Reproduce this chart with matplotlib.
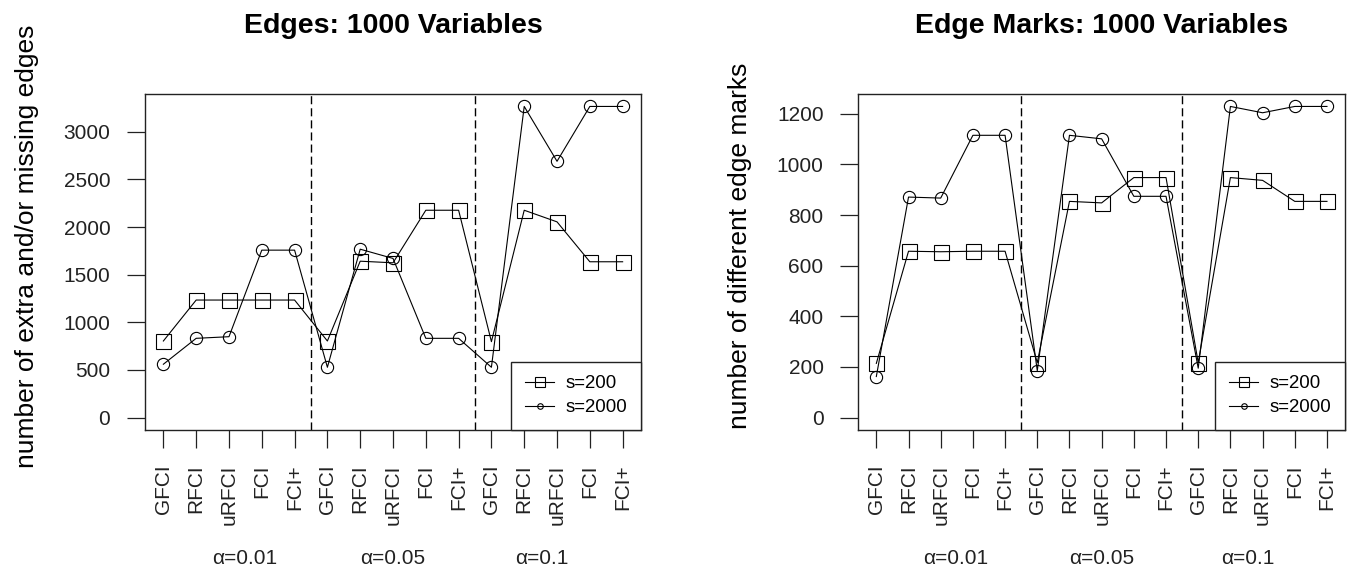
import matplotlib
matplotlib.use("Agg")
import matplotlib.pyplot as plt
import matplotlib.transforms as mtransforms
from matplotlib.lines import Line2D

plt.rcParams['font.family'] = ['Liberation Sans', 'DejaVu Sans']

methods = ["GFCI", "RFCI", "uRFCI", "FCI", "FCI+"]
alphas = ["\u03b1=0.01", "\u03b1=0.05", "\u03b1=0.1"]
tick_labels = methods * 3

# values, 5 methods x 3 alpha levels
edges_s200 = [804, 1234, 1234, 1234, 1234,
              804, 1642, 1625, 2177, 2177,
              797, 2177, 2055, 1636, 1636]
edges_s2000 = [560, 832, 849, 1758, 1758,
               528, 1768, 1671, 832, 832,
               528, 3267, 2691, 3267, 3267]
marks_s200 = [214, 657, 655, 657, 657,
              217, 854, 848, 948, 948,
              217, 948, 937, 854, 854]
marks_s2000 = [162, 871, 867, 1115, 1115,
               185, 1115, 1101, 874, 874,
               195, 1229, 1204, 1229, 1229]

edges_yticks = [0, 500, 1000, 1500, 2000, 2500, 3000]
marks_yticks = [0, 200, 400, 600, 800, 1000, 1200]

W, H = 1363, 576
fig = plt.figure(figsize=(W / 100, H / 100), dpi=100)


def panel(rect, s200, s2000, yticks, title, ylabel, ylab_x):
    ax = fig.add_axes(rect)
    x = list(range(1, len(s200) + 1))
    ax.plot(x, s200, color='black', lw=0.8, marker='s', ms=10.8,
            mfc='none', mec='black', mew=0.8)
    ax.plot(x, s2000, color='black', lw=0.8, marker='o', ms=8.8,
            mfc='none', mec='black', mew=0.8)
    for xv in [5.5, 10.5]:
        ax.axvline(xv, color='black', lw=1.0, dashes=(5.8, 2.9))

    ymax = max(max(s200), max(s2000))
    ax.set_xlim(1 - 0.04 * 14, 15 + 0.04 * 14)
    ax.set_ylim(-0.04 * ymax, ymax * 1.04)
    ax.set_xticks(x)
    ax.set_xticklabels(tick_labels, rotation=90, fontsize=15)
    ax.set_yticks(yticks)
    ax.set_yticklabels([str(v) for v in yticks], fontsize=15)
    ax.tick_params(direction='out', length=13, width=0.9, pad=12,
                   colors='#222222', labelcolor='#222222')
    for sp in ax.spines.values():
        sp.set_linewidth(1.0)
        sp.set_color('#222222')

    handles = [
        Line2D([], [], color='black', lw=0.8, marker='s', ms=7.5,
               mfc='none', mec='black', mew=0.8),
        Line2D([], [], color='black', lw=0.8, marker='o', ms=4,
               mfc='none', mec='black', mew=0.8),
    ]
    leg = ax.legend(handles, ["s=200", "s=2000"], loc='lower right',
                    bbox_to_anchor=(1, 0), borderaxespad=0, fontsize=13.4,
                    handlelength=1.55, handletextpad=0.6, borderpad=0.75,
                    labelspacing=0.35, fancybox=False, framealpha=1)
    leg.get_frame().set_edgecolor('#222222')
    leg.get_frame().set_linewidth(1.0)

    trans = mtransforms.blended_transform_factory(ax.transAxes, fig.transFigure)
    for fx, lab in zip([0.2, 0.5, 0.8], alphas):
        ax.text(fx, 1 - 559 / H, lab, transform=trans,
                ha='center', va='center', fontsize=15, color='#222222')

    cx = rect[0] + rect[2] / 2
    fig.text(cx, 1 - 33.3 / H, title, ha='center', va='baseline',
             fontsize=20.5, fontweight='bold')
    fig.text(ylab_x / W, 1 - 246 / H, ylabel, rotation=90, ha='center',
             va='center', fontsize=19)
    return ax


bottom = 1 - 430 / H
height = 336 / H
panel([145 / W, bottom, 496 / W, height], edges_s200, edges_s2000,
      edges_yticks, "Edges: 1000 Variables",
      "number of extra and/or missing edges", 27)
panel([858.3 / W, bottom, 486.7 / W, height], marks_s200, marks_s2000,
      marks_yticks, "Edge Marks: 1000 Variables",
      "number of different edge marks", 740)

fig.savefig("out.png", dpi=100)
